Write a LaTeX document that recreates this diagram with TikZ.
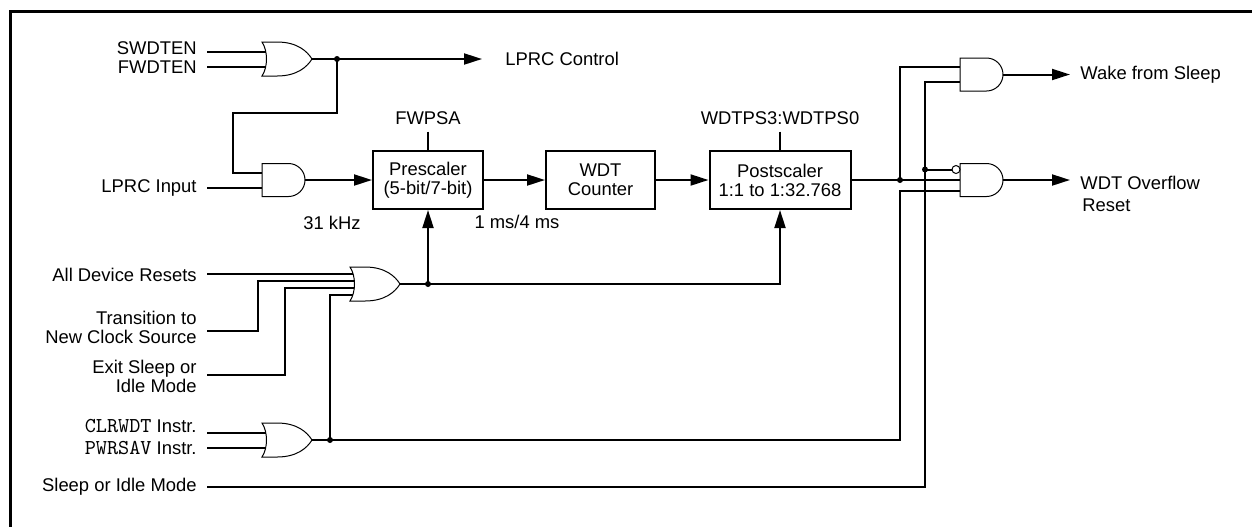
\documentclass[tikz,border=0pt]{standalone}
\usepackage{fontspec}
\setmainfont{Liberation Sans}
\usetikzlibrary{arrows.meta}

\newcommand{\andshape}{\draw[gate] (0,-16.5) -- (26.5,-16.5)
  .. controls (35.6,-16.5) and (43,-9.1) .. (43,0)
  .. controls (43,9.1) and (35.6,16.5) .. (26.5,16.5) -- (0,16.5) -- cycle;}
\newcommand{\orshape}{\draw[gate] (0,-17) -- (15,-17)
  .. controls (35,-17) and (45,-8) .. (50,0)
  .. controls (45,8) and (35,17) .. (15,17) -- (0,17)
  .. controls (6,8) and (6,-8) .. (0,-17) -- cycle;}
\newcommand{\instr}[1]{{\fontsize{10.6}{9.5}\selectfont\ttfamily #1}}

\tikzset{
  gate/.style={line width=0.5pt},
  andg/.pic={\andshape
    \coordinate (-in1) at (0,-7.5);
    \coordinate (-in2) at (0,7.5);
    \coordinate (-out) at (43,0);},
  andinv/.pic={\andshape
    \draw[gate] (-4,-10.5) circle[radius=4];
    \coordinate (-in1) at (-8,-10.5);
    \coordinate (-in2) at (0,0);
    \coordinate (-in3) at (0,10.5);
    \coordinate (-out) at (43,0);},
  org/.pic={\orshape
    \coordinate (-in1) at (4,-7.5);
    \coordinate (-in2) at (4,7.5);
    \coordinate (-out) at (50,0);},
  or4/.pic={\orshape
    \coordinate (-in1) at (3,-10.5);
    \coordinate (-in2) at (4.4,-3.5);
    \coordinate (-in3) at (4.4,3.5);
    \coordinate (-in4) at (3,10.5);
    \coordinate (-out) at (50,0);},
}

\begin{document}
\begin{tikzpicture}
        [x=0.5pt,y=-0.5pt,font=\fontsize{9.2}{9.5}\selectfont]
        \tikzstyle{wire}=[line width=1pt]
        \tikzstyle{sig}=[wire,-{Triangle[length=9pt,width=5.5pt]}]
        \tikzstyle{blk}=[draw,line width=1pt,minimum height=29pt,
        align=center,inner sep=0pt]
        \tikzstyle{lbl}=[anchor=east,inner xsep=5pt,inner ysep=0pt,align=right]
        \tikzstyle{outl}=[anchor=west,inner xsep=5pt,inner ysep=0pt,align=left]
        \useasboundingbox (0,0) rectangle (1252,527);
        \draw[line width=1.5pt] (1252,11) -- (10,11) -- (10,527);
        %-----inputs
         \node[lbl]  (sw)  at (207,48)    {SWDTEN};
         \node[lbl]  (fw)  at (207,67.5)  {FWDTEN};
         \node[lbl]  (lp)  at (207,187.5) {LPRC Input};
         \node[lbl]  (adr) at (207,275)   {All Device Resets};
         \node[lbl]  (tr)  at (207,327.5) {Transition to\\New Clock Source};
         \node[lbl]  (ex)  at (207,376.5) {Exit Sleep or\\Idle Mode};
         \node[lbl]  (clr) at (207,426)   {\instr{CLRWDT} Instr.};
         \node[lbl]  (pw)  at (207,447.5) {\instr{PWRSAV} Instr.};
         \node[lbl]  (sl)  at (207,487)   {Sleep or Idle Mode};
        %-----outputs
         \node[outl,inner xsep=11.5pt] (lc) at (482,59) {LPRC Control};
         \node[outl] (wk) at (1070,74.5) {Wake from Sleep};
         \node[outl] (ov) at (1070,194)  {WDT Overflow\\[1.5pt]\hspace{1pt}Reset};
        %-----blocks
         \node[blk,minimum width=55pt]   (pre)  at (428,180)   {Prescaler\\(5-bit/7-bit)};
         \node[blk,minimum width=54.5pt] (cnt)  at (600.5,180) {WDT\\Counter};
         \node[blk,minimum width=70.5pt] (post) at (780,180)   {Postscaler\\1:1 to 1:32.768};
         \node (fwpsa) at (428,118) {FWPSA};
         \node (wdtps) at (780,118) {WDTPS3:WDTPS0};
         \node (khz)   at (332,223) {31 kHz};
         \node (ms)    at (517,222) {1 ms/4 ms};
        %-----gates
         \pic (orEn)  at (262,59)    {org};
         \pic (andLp) at (262,180)   {andg};
         \pic (orRst) at (350,284)   {or4};
         \pic (orClr) at (262,440)   {org};
         \pic (andWk) at (960,74.5)  {andg};
         \pic (andOv) at (960,180)   {andinv};
         \coordinate (jEn)  at (337,59);
         \coordinate (jRst) at (428,284);
         \coordinate (jClr) at (330,440);
         \coordinate (jPs)  at (900,180);
         \coordinate (jSl)  at (925,169.5);

         \draw[wire] (sw.east |- orEn-in1) -- (orEn-in1);
         \draw[wire] (fw.east |- orEn-in2) -- (orEn-in2);
         \draw[sig] (orEn-out) -- (lc.west);
         \draw[wire] (jEn) |- (233,113) |- (andLp-in1);
         \draw[wire] (lp.east |- andLp-in2) -- (andLp-in2);
         \draw[sig] (andLp-out) -- (pre.west);

         \foreach \from/\to in {pre/cnt,cnt/post}
         \draw[sig] (\from) -- (\to);
         \draw[wire] (fwpsa) -- (pre);
         \draw[wire] (wdtps) -- (post);

         \draw[wire] (adr.east |- orRst-in1) -- (orRst-in1);
         \draw[wire] (tr.east |- 0,331) -- (258,331) |- (orRst-in2);
         \draw[wire] (ex.east |- 0,375) -- (285,375) |- (orRst-in3);
         \draw[wire] (jClr) |- (orRst-in4);
         \draw[sig] (orRst-out) -| (post.south);
         \draw[sig] (jRst) -- (pre.south);

         \draw[wire] (clr.east |- orClr-in1) -- (orClr-in1);
         \draw[wire] (pw.east |- orClr-in2) -- (orClr-in2);
         \draw[wire] (orClr-out) -| (jPs |- andOv-in3) -- (andOv-in3);
         \draw[wire] (sl.east) -| (jSl) |- (andWk-in2);
         \draw[wire] (jSl) -- (andOv-in1);
         \draw[wire] (post.east) -- (andOv-in2);
         \draw[wire] (jPs) |- (andWk-in1);

         \draw[sig] (andWk-out) -- (wk.west);
         \draw[sig] (andOv-out) -- (ov.west |- andOv-out);

         \foreach \j in {jEn,jRst,jClr,jPs,jSl}
         \fill (\j) circle[radius=3];
        \end{tikzpicture}
\end{document}
